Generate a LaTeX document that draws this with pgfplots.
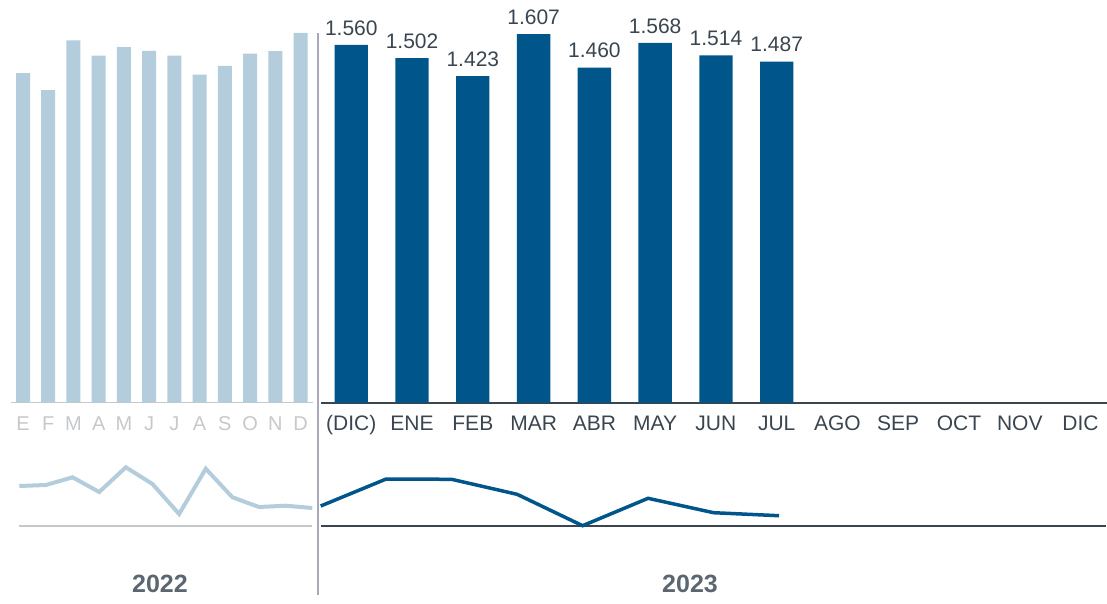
\documentclass[border=0pt]{standalone}
\usepackage{fontspec}
\setmainfont{Liberation Sans}
\usepackage{pgfplots}
\usepackage{pgfplotstable}
\pgfplotsset{compat=1.18}

\definecolor{lightbar}{HTML}{B4CDDC}
\definecolor{darkbar}{HTML}{00568A}
\definecolor{darktext}{HTML}{3A4550}
\definecolor{lighttext}{HTML}{C6C8CA}
\definecolor{yeartext}{HTML}{5C6670}
\definecolor{sepline}{HTML}{A8A8BA}

% 2022 monthly bars
\pgfplotstableread{
x val
1  1.436
2  1.362
3  1.579
4  1.513
5  1.550
6  1.534
7  1.513
8  1.430
9  1.468
10 1.521
11 1.532
12 1.612
}\barsA

% 2023 bars, (DIC) = 0
\pgfplotstableread{
x val
0 1.560
1 1.502
2 1.423
3 1.607
4 1.460
5 1.568
6 1.514
7 1.487
}\barsB

% lower line panels
\pgfplotstableread{
x val
1  40.0
2  41.0
3  48.7
4  34.0
5  58.7
6  42.0
7  12.0
8  57.3
9  28.7
10 19.0
11 20.3
12 18.0
}\lineA

\pgfplotstableread{
x val
0 20.0
1 47.0
2 46.7
3 31.7
4 0.3
5 27.7
6 13.3
7 10.3
}\lineB

\begin{document}
\begin{tikzpicture}
\pgfplotsset{
  panel/.style={
    scale only axis, anchor=south west,
    axis y line=none, axis x line*=bottom,
    ymin=0, ytick=\empty,
    xtick style={draw=none},
    clip=false,
    /pgf/number format/assume math mode=true,
  },
}

% --- 2022 bars
\begin{axis}[panel, at={(10.7pt,-402.5pt)},
    width=302pt, height=402pt,
    xmin=0.5125, xmax=12.48, ymax=1.7532,
    ybar, bar width=14pt,
    xtick={1,...,12},
    xticklabels={E,F,M,A,M,J,J,A,S,O,N,D},
    xticklabel style={anchor=base, yshift=-23.5pt,
      font=\fontsize{20}{24}\selectfont, text=lighttext},
    x axis line style={-, draw=lighttext, line width=1.5pt},
  ]
  \addplot[fill=lightbar, draw=none] table[x=x, y=val] {\barsA};
\end{axis}

% --- 2023 bars
\begin{axis}[panel, at={(320.7pt,-402.5pt)},
    width=786.3pt, height=402pt,
    xmin=-0.5035, xmax=12.436, ymax=1.7532,
    ybar, bar width=33.3pt,
    xtick={0,...,12},
    xticklabels={(DIC),ENE,FEB,MAR,ABR,MAY,JUN,JUL,AGO,SEP,OCT,NOV,DIC},
    xticklabel style={anchor=base, yshift=-23.5pt,
      font=\fontsize{21}{25}\selectfont, text=darktext},
    x axis line style={-, draw=darktext, line width=2pt},
    nodes near coords={\pgfmathprintnumber[fixed,fixed zerofill,precision=3]{\pgfplotspointmeta}},
    every node near coord/.append style={font=\fontsize{21}{25}\selectfont,
      text=darktext, yshift=6pt},
  ]
  \addplot[fill=darkbar, draw=none] table[x=x, y=val] {\barsB};
\end{axis}

% --- 2022 line
\begin{axis}[panel, at={(19.3pt,-526pt)},
    width=293pt, height=70pt,
    xmin=1, xmax=12, ymax=70,
    xtick=\empty,
    x axis line style={-, draw=lighttext, line width=1.5pt},
  ]
  \addplot[lightbar, line width=4pt] table[x=x, y=val] {\lineA};
\end{axis}

% --- 2023 line
\begin{axis}[panel, at={(320.7pt,-526pt)},
    width=785.7pt, height=70pt,
    xmin=0, xmax=12, ymax=70,
    xtick=\empty,
    x axis line style={-, draw=darktext, line width=2pt},
  ]
  \addplot[darkbar, line width=3.5pt] table[x=x, y=val] {\lineB};
\end{axis}

\draw[sepline, line width=2pt] (318pt,-33pt) -- (318pt,-595pt);

\node[font=\bfseries\fontsize{25}{29}\selectfont, text=yeartext] at (160pt,-584pt) {2022};
\node[font=\bfseries\fontsize{25}{29}\selectfont, text=yeartext] at (690pt,-584pt) {2023};

\pgfresetboundingbox
\useasboundingbox (0pt,0pt) rectangle (1107pt,-603pt);
\end{tikzpicture}
\end{document}
